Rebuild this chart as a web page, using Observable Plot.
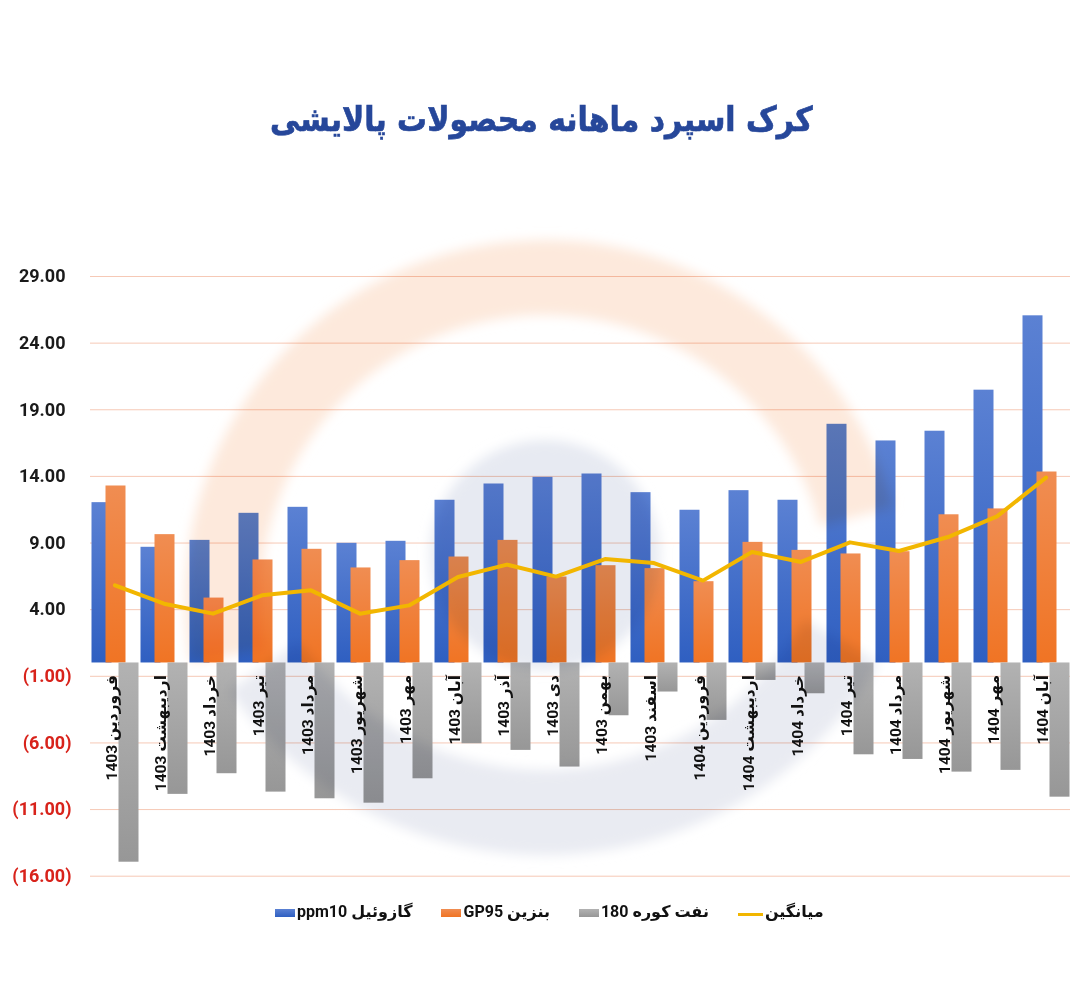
<!DOCTYPE html>
<html>
<head>
<meta charset="utf-8">
<script src="https://cdn.jsdelivr.net/npm/d3@7"></script>
<script src="https://cdn.jsdelivr.net/npm/@observablehq/plot@0.6"></script>
<style>
  body { margin: 0; background: #fff; width: 1082px; height: 991px; position: relative; overflow: hidden;
         font-family: Roboto, "DejaVu Sans", sans-serif; }
  #title { position: absolute; top: 98px; left: 0; width: 1082px; text-align: center; }
  #title span { display: inline-block; direction: rtl; transform: scaleX(0.88);
                font: bold 34px/42px "DejaVu Sans", sans-serif; color: #26479a;
                -webkit-text-stroke: 0.7px #26479a; }
  #chart { position: absolute; top: 200px; left: 0; }
  #legend { position: absolute; top: 902px; left: 275px; display: flex; align-items: center; gap: 29px;
            font: bold 16px Roboto, "DejaVu Sans", sans-serif; color: #111; }
  .item { display: flex; align-items: center; gap: 2px; }
  .item span.t { direction: rtl; unicode-bidi: isolate; }
  .sw { width: 20px; height: 8px; margin-top: 3px; }
  .ln { width: 25px; height: 3px; margin-top: 5px; }
</style>
</head>
<body>
<div id="title"><span></span></div>
<div id="chart"></div>
<div id="legend"></div>
<script>
// Monthly crack spreads of refined products (USD per barrel)
const titleText = "کرک اسپرد ماهانه محصولات پالایشی";

const months = [
  "فروردین 1403", "اردیبهشت 1403", "خرداد 1403", "تیر 1403", "مرداد 1403",
  "شهریور 1403", "مهر 1403", "آبان 1403", "آذر 1403", "دی 1403",
  "بهمن 1403", "اسفند 1403", "فروردین 1404", "اردیبهشت 1404", "خرداد 1404",
  "تیر 1404", "مرداد 1404", "شهریور 1404", "مهر 1404", "آبان 1404"
];

// Gasoil 10 ppm
const gasoil = [12.03, 8.68, 9.20, 11.23, 11.68, 8.98, 9.13, 12.21, 13.43, 13.93,
                14.18, 12.78, 11.46, 12.93, 12.21, 17.91, 16.66, 17.39, 20.47, 26.05];
// Gasoline GP95
const gasoline = [13.28, 9.63, 4.87, 7.73, 8.53, 7.13, 7.68, 7.95, 9.20, 6.45,
                  7.30, 7.08, 6.10, 9.05, 8.45, 8.18, 8.35, 11.12, 11.56, 14.33];
// Fuel oil 180
const fuelOil = [-14.95, -9.86, -8.31, -9.69, -10.19, -10.52, -8.69, -6.06, -6.56, -7.81,
                 -3.96, -2.18, -4.31, -1.31, -2.31, -6.89, -7.24, -8.19, -8.06, -10.07];
// Average
const average = [5.83, 4.45, 3.70, 5.08, 5.45, 3.70, 4.32, 6.45, 7.38, 6.48,
                 7.80, 7.50, 6.18, 8.33, 7.58, 9.05, 8.40, 9.45, 11.00, 13.91];

const yTicks = [29, 24, 19, 14, 9, 4, -1, -6, -11, -16];
const seriesNames = ["گازوئیل ppm10", "بنزین GP95", "نفت کوره 180", "میانگین"];

const rows = months.map((m, i) => ({
  month: m, gasoil: gasoil[i], gasoline: gasoline[i], fuelOil: fuelOil[i], avg: average[i]
}));

const fmt = d => d < 0 ? `(${(-d).toFixed(2)})` : d.toFixed(2);

// gradient fills for the bars
const defs = () => {
  const g = d3.create("svg:defs");
  const grad = (id, top, bottom) => {
    const lg = g.append("linearGradient").attr("id", id).attr("x1", 0).attr("y1", 0).attr("x2", 0).attr("y2", 1);
    lg.append("stop").attr("offset", "0%").attr("stop-color", top);
    lg.append("stop").attr("offset", "100%").attr("stop-color", bottom);
  };
  grad("gBlue", "#5b81d3", "#2f5fc1");
  grad("gOrange", "#f08d52", "#f07424");
  grad("gGray", "#b2b2b2", "#979797");
  g.append("filter").attr("id", "soft").attr("x", "-20%").attr("y", "-20%").attr("width", "140%").attr("height", "140%")
    .append("feGaussianBlur").attr("stdDeviation", 6);
  return g.node();
};

// faint emblem in the background of the plot area
const emblem = () => {
  const cx = 545;
  const g = d3.create("svg:g").attr("filter", "url(#soft)").style("mix-blend-mode", "multiply");
  const arc = d3.arc();
  g.append("path")
    .attr("transform", `translate(${cx},400)`)
    .attr("d", arc({innerRadius: 285, outerRadius: 360, startAngle: -100 * Math.PI / 180, endAngle: 75 * Math.PI / 180}))
    .attr("fill", "#fde9dc");
  g.append("circle").attr("cx", cx).attr("cy", 355).attr("r", 115).attr("fill", "#e7eaf2");
  g.append("path")
    .attr("transform", `translate(${cx},270)`)
    .attr("d", arc({innerRadius: 300, outerRadius: 385, startAngle: 120 * Math.PI / 180, endAngle: 235 * Math.PI / 180, cornerRadius: 40}))
    .attr("fill", "#e9ebf2");
  return g.node();
};

const chart = Plot.plot({
  width: 1082,
  height: 700,
  marginTop: 76,
  marginBottom: 24.3,
  marginLeft: 90,
  marginRight: 12,
  style: { background: "transparent", fontFamily: "Roboto, 'DejaVu Sans', sans-serif", overflow: "visible" },
  x: { type: "band", domain: months, padding: 0, round: false, axis: null },
  y: { domain: [-16, 29], axis: null },
  marks: [
    defs,
    Plot.ruleY(yTicks, { stroke: "#f6c9b6", strokeWidth: 1 }),
    Plot.barY(rows, { x: "month", y: "gasoil", fill: "url(#gBlue)", insetLeft: 1.5, insetRight: 27.5 }),
    Plot.barY(rows, { x: "month", y: "gasoline", fill: "url(#gOrange)", insetLeft: 15.5, insetRight: 13.5 }),
    Plot.barY(rows, { x: "month", y: "fuelOil", fill: "url(#gGray)", insetLeft: 28.5, insetRight: 0.5 }),
    emblem,
    Plot.line(rows, { x: "month", y: "avg", stroke: "#f2b600", strokeWidth: 4, strokeLinejoin: "round" }),
    Plot.text(yTicks.filter(t => t >= 0), {
      y: d => d, frameAnchor: "left", dx: -25, textAnchor: "end", text: fmt,
      fill: "#1a1a1a", fontSize: 18, fontWeight: "bold"
    }),
    Plot.text(yTicks.filter(t => t < 0), {
      y: d => d, frameAnchor: "left", dx: -19, textAnchor: "end", text: fmt,
      fill: "#d8231b", fontSize: 18, fontWeight: "bold"
    }),
    Plot.text(rows, {
      x: "month", y: () => 0, dx: -3, dy: 12, rotate: -90, textAnchor: "end",
      text: d => "\u202B" + d.month + "\u202C",
      fill: "#111", fontSize: 15.5, fontWeight: "bold"
    })
  ]
});
document.getElementById("chart").appendChild(chart);

document.querySelector("#title span").textContent = titleText;

// legend
const swatches = [
  { cls: "sw", bg: "linear-gradient(#5b81d3, #2f5fc1)" },
  { cls: "sw", bg: "linear-gradient(#f08d52, #f07424)" },
  { cls: "sw", bg: "linear-gradient(#b2b2b2, #979797)" },
  { cls: "ln", bg: "#f2b600" }
];
const legend = document.getElementById("legend");
seriesNames.forEach((name, i) => {
  const item = document.createElement("div");
  item.className = "item";
  const sw = document.createElement("span");
  sw.className = swatches[i].cls;
  sw.style.background = swatches[i].bg;
  const t = document.createElement("span");
  t.className = "t";
  t.textContent = name;
  item.appendChild(sw);
  item.appendChild(t);
  legend.appendChild(item);
});
</script>
</body>
</html>
